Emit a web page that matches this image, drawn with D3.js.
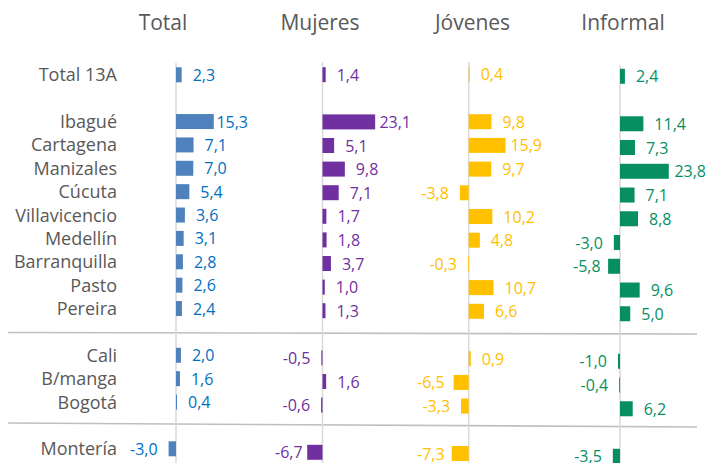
<!DOCTYPE html>
<html>
<head>
<meta charset="utf-8">
<script src="https://cdn.jsdelivr.net/npm/d3@7/dist/d3.min.js"></script>
<style>
  html, body { margin: 0; padding: 0; background: #fff; }
  svg { display: block; font-family: "Open Sans", sans-serif; }
</style>
</head>
<body>
<svg id="chart" width="706" height="463"></svg>
<script>
// ---- data ----
const categories = ["Total 13A", "", "Ibagué", "Cartagena", "Manizales", "Cúcuta", "Villavicencio",
  "Medellín", "Barranquilla", "Pasto", "Pereira", "", "Cali", "B/manga", "Bogotá", "", "Montería"];
const seriesNames = ["Total", "Mujeres", "Jóvenes", "Informal"];
const totalValues    = [2.3, null, 15.3, 7.1, 7.0, 5.4, 3.6, 3.1, 2.8, 2.6, 2.4, null, 2.0, 1.6, 0.4, null, -3.0];
const mujeresValues  = [1.4, null, 23.1, 5.1, 9.8, 7.1, 1.7, 1.8, 3.7, 1.0, 1.3, null, -0.5, 1.6, -0.6, null, -6.7];
const jovenesValues  = [0.4, null, 9.8, 15.9, 9.7, -3.8, 10.2, 4.8, -0.3, 10.7, 6.6, null, 0.9, -6.5, -3.3, null, -7.3];
const informalValues = [2.4, null, 11.4, 7.3, 23.8, 7.1, 8.8, -3.0, -5.8, 9.6, 5.0, null, -1.0, -0.4, 6.2, null, -3.5];

// ---- layout / style ----
const panels = [
  { name: seriesNames[0], values: totalValues,    zero: 176,   k: 2.47, left: 118, right: 248, top: 63.1, step: 23.375, lineTop: 63, titleX: 163,   bar: "#4F81BD", label: "#0070C0" },
  { name: seriesNames[1], values: mujeresValues,  zero: 322.5, k: 2.28, left: 275, right: 411, top: 62.9, step: 23.6,   lineTop: 62, titleX: 320,   bar: "#7030A0", label: "#7030A0" },
  { name: seriesNames[2], values: jovenesValues,  zero: 468.7, k: 2.32, left: 417, right: 542, top: 62.45, step: 23.7,  lineTop: 62, titleX: 472.5, bar: "#FFC000", label: "#FFC000" },
  { name: seriesNames[3], values: informalValues, zero: 620,   k: 2.05, left: 573, right: 706, top: 64.4, step: 23.75,   lineTop: 65, titleX: 623,   bar: "#078F62", label: "#078F62" }
];
const textGray = "#595959";
const fmt = v => d3.format(".1f")(v).replace("−", "-").replace(".", ",");

const svg = d3.select("#chart");

// separators
const seps = [[8, 332.5, 697, 334], [8, 423, 697, 427]];
svg.selectAll("line.sep").data(seps).enter().append("line")
  .attr("class", "sep")
  .attr("x1", d => d[0]).attr("y1", d => d[1]).attr("x2", d => d[2]).attr("y2", d => d[3])
  .attr("stroke", "#bfbfbf").attr("stroke-width", 1.6);

// category labels (aligned with first panel rows)
const p0 = panels[0];
const yCat = d3.scaleBand().domain(d3.range(categories.length))
  .range([p0.top, p0.top + categories.length * p0.step])
  .paddingInner(1 - 15 / p0.step).paddingOuter((1 - 15 / p0.step) / 2);
svg.selectAll("text.cat").data(categories).enter().append("text")
  .attr("class", "cat")
  .attr("x", 117)
  .attr("y", (d, i) => yCat(i) + yCat.bandwidth() / 2 + 6.5)
  .attr("text-anchor", "end")
  .attr("font-size", 18)
  .attr("fill", textGray)
  .text(d => d);

panels.forEach(p => {
  const x = d3.scaleLinear()
    .domain([(p.left - p.zero) / p.k, (p.right - p.zero) / p.k])
    .range([p.left, p.right]);
  const n = categories.length;
  const pad = 1 - 15 / p.step;
  const y = d3.scaleBand().domain(d3.range(n))
    .range([p.top, p.top + n * p.step])
    .paddingInner(pad).paddingOuter(pad / 2);

  const g = svg.append("g");

  // title
  g.append("text")
    .attr("x", p.titleX).attr("y", 30)
    .attr("text-anchor", "middle")
    .attr("font-size", 21)
    .attr("fill", textGray)
    .text(p.name);

  // zero line
  g.append("line")
    .attr("x1", x(0)).attr("x2", x(0))
    .attr("y1", p.lineTop).attr("y2", 463)
    .attr("stroke", "#d9d9d9").attr("stroke-width", 1.5);

  const data = p.values.map((v, i) => ({ v, i })).filter(d => d.v !== null);

  g.selectAll("rect").data(data).enter().append("rect")
    .attr("x", d => Math.min(x(0), x(d.v)))
    .attr("y", d => y(d.i))
    .attr("width", d => Math.max(0.9, Math.abs(x(d.v) - x(0))))
    .attr("height", y.bandwidth())
    .attr("fill", p.bar);

  const labels = g.selectAll("text.val").data(data).enter().append("text")
    .attr("class", "val")
    .attr("font-size", 16)
    .attr("fill", p.label)
    .attr("y", d => y(d.i) + y.bandwidth() / 2 + 6)
    .text(d => fmt(d.v));

  labels.each(function (d) {
    const w = this.getComputedTextLength();
    const end = x(d.v);
    let sx;
    if (d.v >= 0) {
      sx = Math.min(end + 11, x.range()[1] - w);
    } else {
      sx = Math.max(end - 11 - w, x.range()[0]);
    }
    d3.select(this).attr("x", sx);
  });
});
</script>
</body>
</html>
